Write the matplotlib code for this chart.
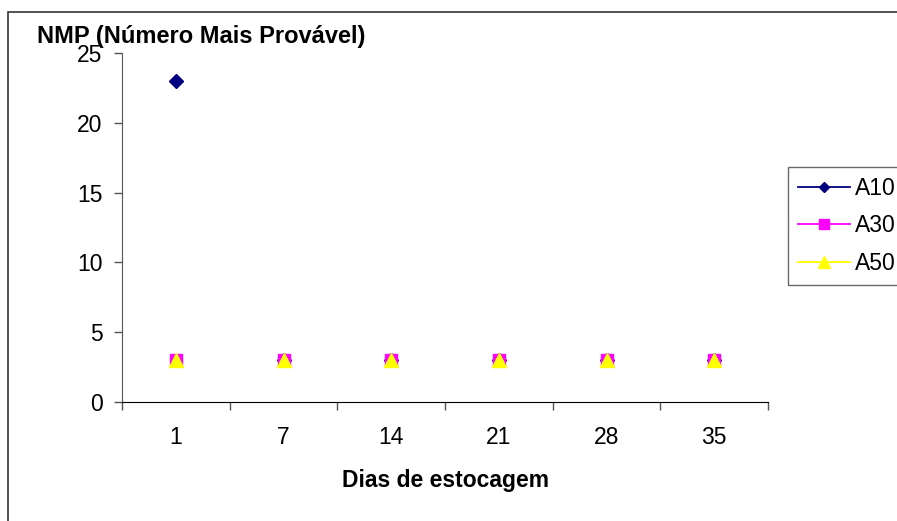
import matplotlib
matplotlib.use("Agg")
import matplotlib.pyplot as plt
from matplotlib.lines import Line2D
from matplotlib.patches import Rectangle

plt.rcParams['font.family'] = ['Liberation Sans', 'DejaVu Sans']

# data
dias = ['1', '7', '14', '21', '28', '35']
a10 = [23, 3, 3, 3, 3, 3]
a30 = [3, 3, 3, 3, 3, 3]
a50 = [3, 3, 3, 3, 3, 3]

W, H = 897, 521
fig = plt.figure(figsize=(W / 100, H / 100), dpi=100)
ax = fig.add_axes([122 / W, 1 - 402 / H, (768 - 122) / W, (402 - 53) / H])

x = list(range(len(dias)))
ax.plot(x, a10, linestyle='none', marker='D', color='#000080', markersize=7, zorder=3)
ax.plot(x, a30, linestyle='none', marker='s', color='#FF00FF', markersize=8, zorder=4)
ax.plot(x, a50, linestyle='none', marker='^', color='#FFFF00', markersize=10, zorder=5)

ax.set_xlim(-0.5, len(dias) - 0.5)
ax.set_ylim(0, 25)
ax.set_yticks([0, 5, 10, 15, 20, 25])
ax.set_xticks(x)
ax.set_xticklabels(dias)
ax.set_xticks([i - 0.5 for i in range(len(dias) + 1)], minor=True)
ax.tick_params(axis='x', which='major', length=0, pad=17, labelsize=16.5)
ax.tick_params(axis='x', which='minor', length=6, width=1, color='#555555')
ax.tick_params(axis='y', length=6, width=1, color='#555555', labelsize=16.5, pad=8)
for s in ['top', 'right']:
    ax.spines[s].set_visible(False)
ax.spines['left'].set_color('#555555')
ax.spines['bottom'].set_color('black')

ax.set_xlabel('Dias de estocagem', fontsize=16.5, fontweight='bold', labelpad=15)
# title sits over the "25" label, as in the original
fig.text(37 / W, 1 - 36 / H, 'NMP (Número Mais Provável)', fontsize=17,
         fontweight='bold', ha='left', va='center')

handles = [
    Line2D([], [], color='#000080', marker='D', markersize=5, lw=1.3),
    Line2D([], [], color='#FF00FF', marker='s', markersize=7, lw=1.3),
    Line2D([], [], color='#FFFF00', marker='^', markersize=9, lw=1.3),
]
leg = fig.legend(handles, ['A10', 'A30', 'A50'], loc='upper left',
                 bbox_to_anchor=(788 / W, 1 - 167 / H), fontsize=16.5,
                 frameon=True, fancybox=False, edgecolor='#444444',
                 handlelength=2.3, handletextpad=0.2, labelspacing=0.64,
                 borderpad=0.42, borderaxespad=0)
leg.get_frame().set_linewidth(1)

fig.patches.append(Rectangle((8 / W, -0.1), 1.2, 1 - 12 / H + 0.1,
                             transform=fig.transFigure, fill=False,
                             edgecolor='#333333', linewidth=1.2))

fig.savefig('out.png', dpi=100)
